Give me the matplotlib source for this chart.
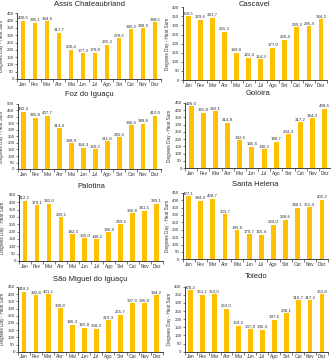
import matplotlib
matplotlib.use("Agg")
import matplotlib.pyplot as plt
import numpy as np

plt.rcParams['font.family'] = ['Liberation Sans', 'DejaVu Sans']

months = ["Jan", "Fev", "Mar", "Abr", "Mai", "Jun", "Jul", "Ago", "Set", "Out", "Nov", "Dez"]

assis = [400.5, 385.1, 394.6, 317.7, 200.4, 177.3, 178.8, 235.3, 278.6, 340.2, 348.9, 388.5]
cascavel = [350.5, 329.6, 341.7, 265.3, 149.0, 122.4, 114.3, 177.0, 220.4, 289.2, 295.4, 334.2]
foz = [442.3, 395.8, 407.7, 313.4, 198.9, 164.3, 150.2, 211.8, 245.6, 336.6, 348.8, 410.0]
guaira = [426.0, 381.8, 392.1, 314.8, 192.5, 145.6, 130.2, 180.7, 234.4, 317.2, 344.3, 408.6]
palotina = [412.1, 379.1, 392.0, 299.1, 182.3, 155.0, 148.2, 196.0, 249.5, 326.8, 341.5, 389.1]
santa_helena = [427.1, 394.4, 408.7, 303.7, 195.8, 170.7, 165.4, 234.0, 268.6, 348.1, 351.4, 402.2]
sao_miguel = [418.1, 392.8, 401.1, 300.8, 186.3, 165.8, 158.3, 219.3, 255.7, 337.9, 336.8, 394.2]
toledo = [378.2, 351.1, 353.0, 263.0, 159.2, 137.8, 136.3, 197.6, 238.1, 316.7, 317.2, 352.8]

titles = ["Assis Chateaubriand", "Cascavel", "Foz do Iguaçu", "Goioira",
          "Palotina", "Santa Helena", "São Miguel do Iguaçu", "Toledo"]
series = [assis, cascavel, foz, guaira, palotina, santa_helena, sao_miguel, toledo]
ymax = [450, 400, 500, 450, 450, 450, 450, 400]
ylabel = "Degrees Day - Heat Sum"

W, H = 331, 361
# pixel boxes: left, right, top, bottom
boxes = [
    (17, 161, 13.3, 79),
    (182.5, 327, 7.3, 80),
    (17.7, 161, 104, 169),
    (185, 331, 103, 168),
    (19, 162.7, 195, 261),
    (182.5, 328, 192.7, 259.3),
    (18, 162.7, 287, 351.7),
    (184.7, 328, 286.7, 351.7),
]
title_y = [4.7, 4.7, 94, 93.3, 186, 184.3, 279.3, 277]
ylabel_x = [4.5, 170.5, 4.5, 172, 5, 170.5, 5, 172]

fig = plt.figure(figsize=(W / 100, H / 100), dpi=100)
fig.patch.set_facecolor("white")
bar_color = "#FFC000"
spine_color = "#404040"

for i, (vals, ttl, ym, box, ty, yx) in enumerate(zip(series, titles, ymax, boxes, title_y, ylabel_x)):
    l, r, t, b = box
    ax = fig.add_axes([l / W, 1 - b / H, (r - l) / W, (b - t) / H])
    x = np.arange(len(months))
    ax.bar(x, vals, width=0.4, color=bar_color, zorder=2)
    ax.set_xlim(-0.5, 11.5)
    ax.set_ylim(0, ym)
    ax.set_yticks(np.arange(0, ym + 1, 50))
    ax.set_xticks(x)
    ax.set_xticklabels(months)
    ax.set_xticks(np.arange(-0.5, 12, 1), minor=True)
    ax.tick_params(axis='x', which='major', length=0, labelsize=3.4, pad=2, colors="#333333")
    ax.tick_params(axis='x', which='minor', length=2, width=0.5, color=spine_color)
    ax.tick_params(axis='y', which='major', length=1.5, width=0.5, labelsize=3.2, pad=0.8,
                   color=spine_color, labelcolor="#333333")
    for s in ["top", "right"]:
        ax.spines[s].set_visible(False)
    for s in ["left", "bottom"]:
        ax.spines[s].set_color(spine_color)
        ax.spines[s].set_linewidth(0.7)
    ax.set_ylabel(ylabel, fontsize=3.3, color="#333333")
    ax.yaxis.set_label_coords((yx - l) / (r - l), 0.5)
    for xi, v in zip(x, vals):
        ax.text(xi, v + ym * 0.015, f"{v:.1f}".replace(".", ","), ha="center", va="bottom",
                fontsize=3.2, color="#333333")
    cx = (l + r) / 2 / W
    fig.text(cx, 1 - ty / H, ttl, ha="center", va="center", fontsize=5.5, color="#222222")

fig.savefig("out.png", dpi=100, facecolor="white")
